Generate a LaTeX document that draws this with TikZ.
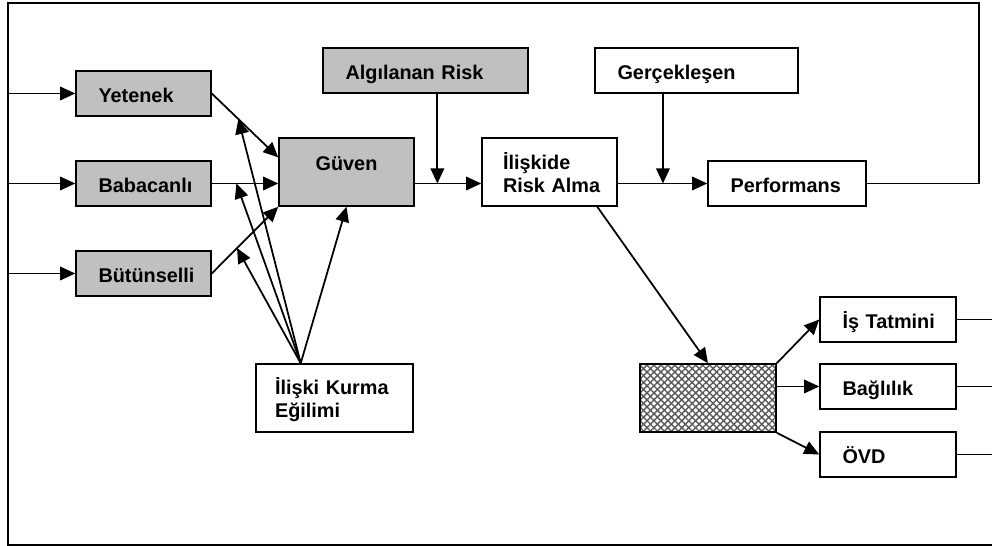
\documentclass[tikz,border=0pt]{standalone}
\usepackage{fontspec}
\setmainfont{Liberation Sans}
\usepackage{tikz}
\usetikzlibrary{arrows.meta, calc, patterns.meta}
\definecolor{boxgray}{RGB}{192, 192, 192}
\hyphenpenalty=10000

\begin{document}
\begin{tikzpicture}[
  x=0.02cm, y=-0.02cm,
  box_white/.style={rectangle, draw=black, line width=0.9pt, fill=white, inner xsep=0.45cm, inner ysep=0pt, align=left, font=\bfseries\fontsize{11.3pt}{13pt}\selectfont, text height=0.64cm, text depth=0.26cm},
  box_gray/.style={box_white, fill=boxgray},
  box_hatch/.style={rectangle, draw=black, line width=0.9pt, inner sep=0pt, minimum width=2.72cm, minimum height=1.36cm,
    preaction={fill=white},
    preaction={pattern={Lines[angle=45, distance=2.8pt, line width=0.8pt]}, pattern color=black!65},
    preaction={pattern={Lines[angle=-45, distance=2.8pt, line width=0.8pt]}, pattern color=black!65}},
  arr/.style={-{Triangle[length=0.3cm, width=0.27cm]}, line width=1pt},
  line/.style={line width=1pt}
]
\useasboundingbox (0,0) rectangle (992,546);

% Antecedents of trust
\node[box_gray, text width=1.8cm] (yetenek) at (143.5, 93.5) {Yetenek};
\node[box_gray, text width=1.8cm] (babacan) at (143.5, 183.5) {Babacanlı};
\node[box_gray, text width=1.8cm] (butun) at (143.5, 273.5) {Bütünselli};
\node[box_gray, text width=1.8cm, align=center, text height=0.66cm, text depth=0.7cm] (guven) at (346.5, 172) {Güven};
\node[box_white, text width=2.38cm, inner xsep=0.38cm, text height=0.62cm, text depth=0.74cm] (egilim) at (334.5, 398) {İlişki~Kurma\\Eğilimi};

% Risk taking and performance
\node[box_gray, text width=3.2cm] (risk) at (425.5, 70.5) {Algılanan~Risk};
\node[box_white, text width=1.86cm, inner xsep=0.42cm, text height=0.64cm, text depth=0.72cm] (iliskide) at (549.5, 172) {İlişkide\\Risk~Alma};
\node[box_white, text width=3.16cm] (gercek) at (696.5, 70.5) {Gerçekleşen};
\node[box_white, text width=2.26cm] (perf) at (787, 183.5) {Performans};

% Outcomes
\node[box_hatch] (hatch) at (708, 398) {};
\node[box_white, text width=1.82cm] (tatmin) at (888, 319.5) {İş~Tatmini};
\node[box_white, text width=1.82cm] (baglilik) at (888, 386.5) {Bağlılık};
\node[box_white, text width=1.82cm] (ovd) at (888, 454.5) {ÖVD};

% Frame (feedback loop)
\coordinate (tl) at (8, 3);
\coordinate (tr) at (979, 3);
\coordinate (bl) at (8, 545);
\coordinate (br) at (992, 545);
\draw[line] (perf.east) -- (perf.east -| tr) -- (tr) -- (tl) -- (bl) -- (br);
\draw[arr] (yetenek.west -| tl) -- (yetenek.west);
\draw[arr] (babacan.west -| tl) -- (babacan.west);
\draw[arr] (butun.west -| tl) -- (butun.west);

% Edges - Trust
\draw[arr] (yetenek.east) -- coordinate[pos=0.4] (m1) ($(guven.north west)!0.29!(guven.south west)$);
\draw[arr] (babacan.east) -- coordinate[pos=0.37] (m2) (guven.west |- babacan.east);
\draw[arr] (butun.east) -- coordinate[pos=0.38] (m3) (guven.south west);

% Moderation
\coordinate (etop) at ($(egilim.north west)!0.287!(egilim.north east)$);
\draw[arr] (etop) -- (m1);
\draw[arr] (etop) -- (m2);
\draw[arr] (etop) -- (m3);
\draw[arr] (etop) -- (guven.south);

% Edges - Risk
\draw[arr] (guven.east |- perf.west) -- coordinate[pos=0.34] (j1) (iliskide.west |- perf.west);
\draw[arr] (risk.south -| j1) -- (j1);
\draw[arr] (iliskide.east |- perf.west) -- coordinate[pos=0.505] (j2) (perf.west);
\draw[arr] (gercek.south -| j2) -- (j2);

% Edges - Outcomes
\draw[arr] ($(iliskide.south)!0.7!(iliskide.south east)$) -- (hatch.north);
\draw[arr] (hatch.north east) -- (tatmin.west);
\draw[arr] (hatch.east |- baglilik.west) -- (baglilik.west);
\draw[arr] (hatch.south east) -- (ovd.west);
\draw[line] (tatmin.east) -- (tatmin.east -| br);
\draw[line] (baglilik.east) -- (baglilik.east -| br);
\draw[line] (ovd.east) -- (ovd.east -| br);

\end{tikzpicture}
\end{document}
